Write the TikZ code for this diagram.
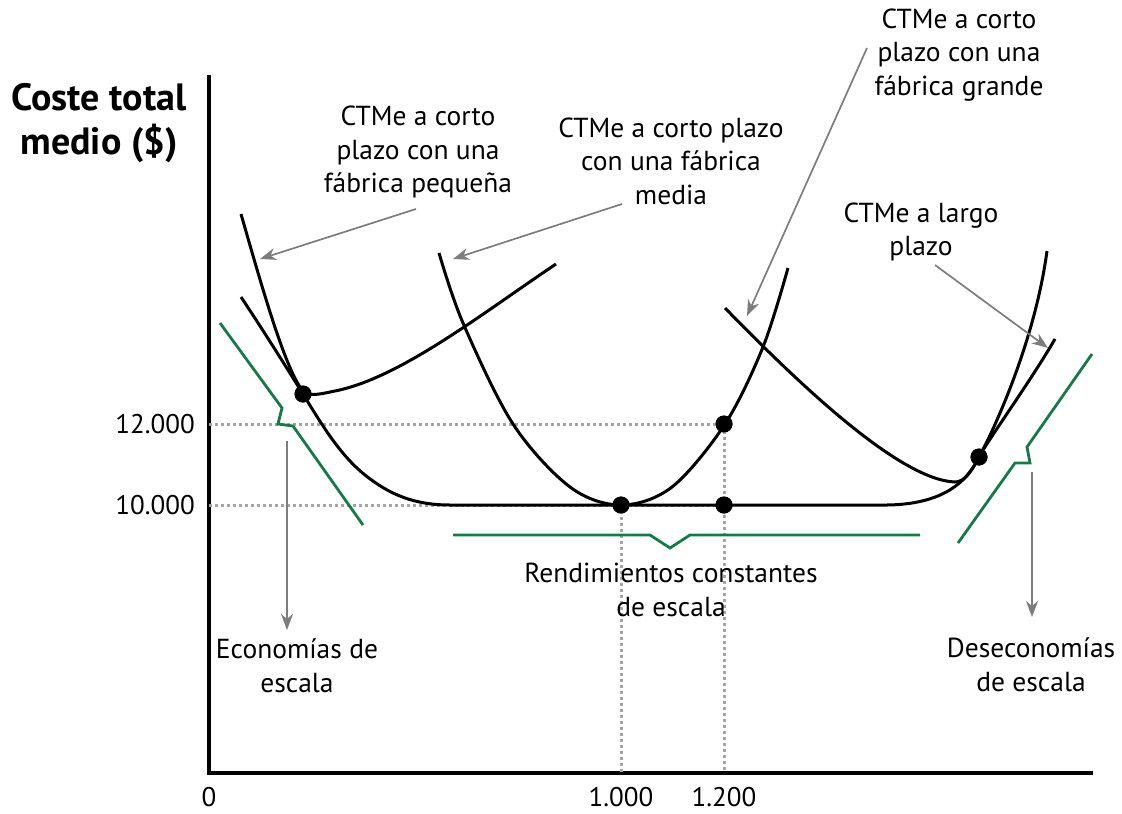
\documentclass[tikz,border=0pt]{standalone}
\usepackage{fontspec}
\setmainfont{PT Sans}
\usetikzlibrary{arrows.meta}
\definecolor{bracegreen}{RGB}{22,122,72}
\definecolor{dotgray}{RGB}{165,165,165}
\definecolor{arrgray}{RGB}{125,125,125}
\begin{document}
\begin{tikzpicture}[x=1pt,y=-1pt,
  curve/.style={line width=3pt, black, line join=round},
  axis/.style={line width=3.2pt, black},
  guide/.style={line width=3pt, dotgray, dash pattern=on 3.2pt off 2.8pt},
  brace/.style={line width=2.8pt, bracegreen, line join=miter},
  pointer/.style={line width=1.7pt, arrgray, -{Stealth[length=16pt,width=12pt,inset=5pt]}},
  dot/.style={circle, fill=black, inner sep=0pt, minimum size=17pt},
  lbl/.style={align=center, inner sep=0pt, font=\fontsize{27.5}{33.5}\selectfont},
  tick/.style={inner sep=0pt, font=\fontsize{27}{30}\selectfont},
  ttl/.style={align=center, inner sep=0pt, font=\fontsize{38}{44}\selectfont\bfseries}]
\useasboundingbox (0,0) rectangle (1122,814);

% axes
\coordinate (O) at (209,773);
\coordinate (ytop) at (209,75);
\coordinate (xend) at (1093,773);
\draw[axis] (ytop) -- (O) -- (xend);

% guides
\coordinate (g12) at (209,424);
\coordinate (g10) at (209,505);
\coordinate (b1000) at (621,773);
\coordinate (b1200) at (724,773);
\node[dot] (pA) at (303,394) {};
\node[dot] (pB) at (621,505) {};
\node[dot] (pC) at (724,424) {};
\node[dot] (pD) at (724,505) {};
\node[dot] (pE) at (979,457) {};
\draw[guide] (g12) -- (pC.center) -- (b1200);
\draw[guide] (g10) -- (pD.center);
\draw[guide] (pB.center) -- (b1000);

% LRAC
\draw[curve] (241,297) .. controls (265,333) and (288,370) .. (303,394)
  .. controls (322,425) and (340,455) .. (365,475)
  .. controls (390,495) and (415,505) .. (450,505)
  -- (880,505)
  .. controls (940,506) and (966,484) .. (979,457)
  .. controls (988,440) and (1030,382) .. (1055,339);

% small SRAC
\draw[curve] (241,214) .. controls (260,280) and (285,370) .. (303,391)
  .. controls (310,397) and (320,394) .. (335,391)
  .. controls (400,378) and (480,315) .. (556,264);

% medium SRAC
\draw[curve] plot[smooth, tension=0.55] coordinates {(439,253) (463,323) (513,424) (570,487) (621,505) (672,487) (725,424) (763,347) (788,268)};

% large SRAC
\draw[curve] (725,308) .. controls (800,385) and (900,480) .. (955,482)
  .. controls (966,482) and (973,468) .. (979,457)
  .. controls (995,428) and (1035,340) .. (1047,251);

% dots on top
\fill (pA) circle (8.5pt);
\fill (pB) circle (8.5pt);
\fill (pC) circle (8.5pt);
\fill (pD) circle (8.5pt);
\fill (pE) circle (8.5pt);

% green braces
\draw[brace] (220,323) -- (282,408) -- (278,424) -- (293,426) -- (363,525);
\draw[brace] (453,535) -- (650,535) -- (670,548) -- (690,535) -- (920,535);
\draw[brace] (958,543) -- (1015,463) -- (1030,463) -- (1027,447) -- (1092,354);

% labels
\node[ttl] (title) at (99,123) {Coste total\\medio (\$)};
\node[lbl] (lsmall) at (418,152) {CTMe a corto\\plazo con una\\fábrica pequeña};
\node[lbl] (lmed) at (671,161) {CTMe a corto plazo\\con una fábrica\\media};
\node[lbl] (llarge) at (959,55) {CTMe a corto\\plazo con una\\fábrica grande};
\node[lbl] (llong) at (921,232) {CTMe a largo\\plazo};
\node[lbl] (lconst) at (671,590) {Rendimientos constantes\\de escala};
\node[lbl] (leco) at (297,666) {Economías de\\escala};
\node[lbl] (ldis) at (1031,665) {Deseconomías\\de escala};

\node[tick, anchor=east] (t12) at (195,424) {12.000};
\node[tick, anchor=east] (t10) at (195,505) {10.000};
\node[tick] (x0) at (209,797) {0};
\node[tick] (x1000) at (621,797) {1.000};
\node[tick] (x1200) at (724,797) {1.200};

% pointers
\coordinate (s1) at (416,209); \coordinate (e1) at (260,259);
\coordinate (s2) at (622,204); \coordinate (e2) at (453,259);
\coordinate (s3) at (867,48);  \coordinate (e3) at (747,316);
\coordinate (s4) at (935,265); \coordinate (e4) at (1048,348);
\coordinate (s5) at (287,441); \coordinate (e5) at (287,630);
\coordinate (s6) at (1032,472); \coordinate (e6) at (1032,617);
\draw[pointer] (s1) -- (e1);
\draw[pointer] (s2) -- (e2);
\draw[pointer] (s3) -- (e3);
\draw[pointer] (s4) -- (e4);
\draw[pointer] (s5) -- (e5);
\draw[pointer] (s6) -- (e6);
\end{tikzpicture}
\end{document}
